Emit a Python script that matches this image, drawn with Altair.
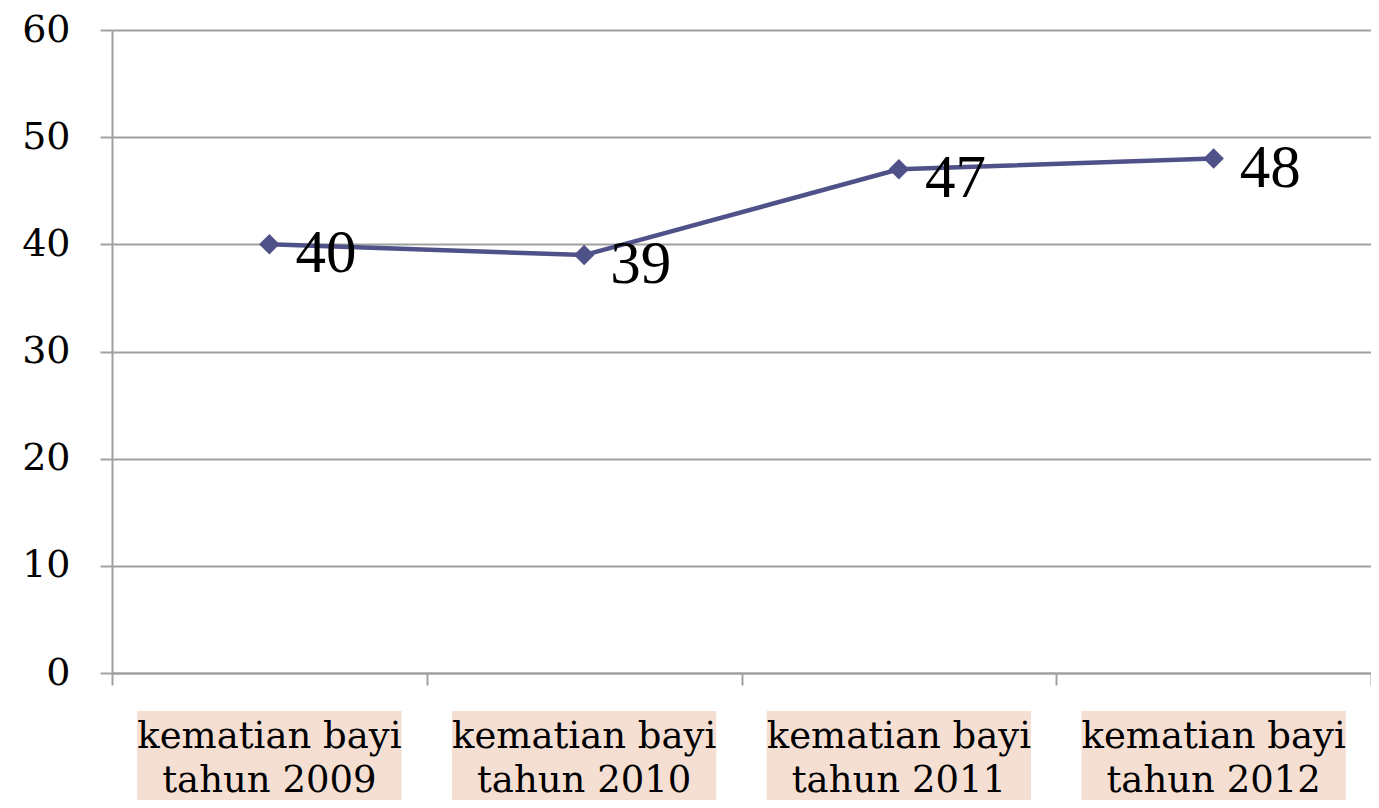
import altair as alt
import pandas as pd

categories = [
    "kematian bayi\ntahun 2009",
    "kematian bayi\ntahun 2010",
    "kematian bayi\ntahun 2011",
    "kematian bayi\ntahun 2012",
]
values = [40, 39, 47, 48]
y_ticks = [0, 10, 20, 30, 40, 50, 60]

df = pd.DataFrame({"cat": categories, "val": values})

GRID = "#a0a0a0"
LINE = "#4F5189"

x_enc = alt.X(
    "cat:N",
    sort=categories,
    scale=alt.Scale(paddingInner=0, paddingOuter=0),
    axis=alt.Axis(
        title=None,
        labels=False,
        tickBand="extent",
        tickSize=12,
        tickColor=GRID,
        tickWidth=2,
        domainColor=GRID,
        domainWidth=2,
        grid=False,
    ),
)
y_enc = alt.Y(
    "val:Q",
    scale=alt.Scale(domain=[0, 60], nice=False),
    axis=alt.Axis(
        title=None,
        values=y_ticks,
        grid=True,
        gridColor=GRID,
        gridWidth=2,
        tickSize=12,
        tickColor=GRID,
        tickWidth=2,
        domainColor=GRID,
        domainWidth=2,
        labelFont="DejaVu Serif",
        labelFontSize=38,
        labelColor="#000000",
        labelPadding=30,
    ),
)

base = alt.Chart(df)

line = base.mark_line(color=LINE, strokeWidth=4.5).encode(x=x_enc, y=y_enc)
points = base.mark_point(
    shape="diamond", filled=True, size=420, color=LINE, opacity=1
).encode(x=alt.X("cat:N", sort=categories), y="val:Q")
vlabels = base.mark_text(
    align="left", baseline="alphabetic", dx=26, dy=28,
    font="Liberation Serif", fontSize=61, color="#000000",
).encode(x=alt.X("cat:N", sort=categories), y="val:Q", text="val:Q")

bg = base.mark_rect(
    color="#F5DFD3", width=alt.RelativeBandSize(0.84), clip=False
).encode(
    x=alt.X("cat:N", sort=categories),
    y=alt.value(681),
    y2=alt.value(790),
)
xlabels = base.mark_text(
    lineBreak="\n", baseline="alphabetic", align="center",
    font="DejaVu Serif", fontSize=37, lineHeight=44, color="#000000",
).encode(
    x=alt.X("cat:N", sort=categories),
    y=alt.value(718),
    text="cat:N",
)

chart = (
    alt.layer(bg, xlabels, line, points, vlabels)
    .properties(
        width=1259,
        height=643,
        padding={"left": 104, "top": 22, "right": 0, "bottom": 127},
        autosize=alt.AutoSizeParams(type="none"),
    )
    .configure_view(stroke=None)
    .configure(background="white")
)

chart.save("out.html", embed_options={"renderer": "svg", "actions": False})
